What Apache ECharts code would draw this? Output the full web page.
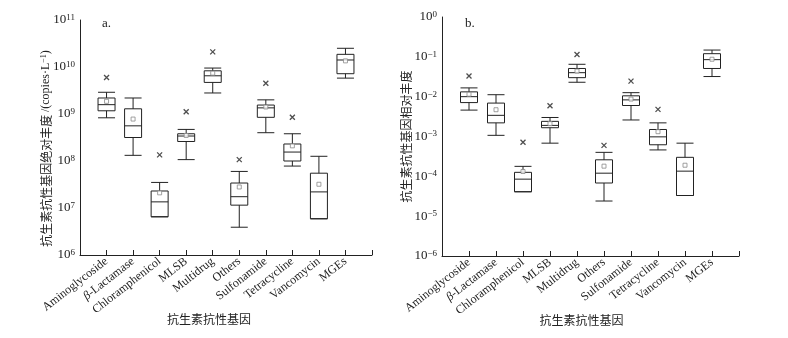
<!DOCTYPE html>
<html>
<head>
<meta charset="utf-8">
<script src="https://cdn.jsdelivr.net/npm/echarts@6/dist/echarts.min.js"></script>
<style>
  html, body { margin: 0; padding: 0; background: #fff; }
  #chart { width: 788px; height: 338px; }
</style>
</head>
<body>
<div id="chart"></div>
<script>
// 抗性基因类别
const categories = ['Aminoglycoside', 'β-Lactamase', 'Chloramphenicol', 'MLSB', 'Multidrug',
  'Others', 'Sulfonamide', 'Tetracycline', 'Vancomycin', 'MGEs'];

// a. 绝对丰度 (copies·L-1): [min, Q1, median, Q3, max]
const absBox = [
  [8.3e8, 1.17e9, 1.58e9, 2.19e9, 2.9e9],
  [1.32e8, 3.16e8, 5.6e8, 1.29e9, 2.19e9],
  [6.5e6, 6.5e6, 1.35e7, 2.3e7, 3.5e7],
  [1.07e8, 2.6e8, 3.4e8, 3.8e8, 4.7e8],
  [2.8e9, 4.7e9, 6.5e9, 8.3e9, 9.5e9],
  [3.9e6, 1.15e7, 1.74e7, 3.4e7, 6.0e7],
  [4.0e8, 8.5e8, 1.35e9, 1.55e9, 2.0e9],
  [7.8e7, 1.0e8, 1.55e8, 2.3e8, 3.8e8],
  [5.9e6, 5.9e6, 2.2e7, 5.5e7, 1.26e8],
  [5.8e9, 7.2e9, 1.41e10, 1.86e10, 2.5e10]
];
const absMean = [1.86e9, 7.8e8, 2.1e7, 3.5e8, 7.4e9, 2.8e7, 1.41e9, 2.1e8, 3.2e7, 1.35e10];
const absOutlier = [6.0e9, null, 1.35e8, 1.12e9, 2.1e10, 1.07e8, 4.5e9, 8.5e8, null, null];

// b. 相对丰度
const relBox = [
  [4.6e-3, 7.1e-3, 1.0e-2, 1.32e-2, 1.66e-2],
  [1.07e-3, 2.2e-3, 3.4e-3, 6.9e-3, 1.12e-2],
  [4.1e-5, 4.1e-5, 8.5e-5, 1.26e-4, 1.78e-4],
  [6.8e-4, 1.66e-3, 1.9e-3, 2.4e-3, 3.0e-3],
  [2.3e-2, 3.0e-2, 4.0e-2, 5.1e-2, 6.5e-2],
  [2.4e-5, 6.8e-5, 1.2e-4, 2.6e-4, 4.0e-4],
  [2.6e-3, 6.0e-3, 8.3e-3, 1.05e-2, 1.26e-2],
  [4.6e-4, 6.2e-4, 9.8e-4, 1.5e-3, 2.2e-3],
  [3.3e-5, 3.3e-5, 1.35e-4, 3.0e-4, 6.8e-4],
  [3.2e-2, 5.1e-2, 8.5e-2, 0.12, 0.148]
];
const relMean = [1.15e-2, 4.7e-3, 1.32e-4, 2.1e-3, 4.4e-2, 1.8e-4, 8.7e-3, 1.32e-3, 1.9e-4, 8.7e-2];
const relOutlier = [3.3e-2, null, 7.2e-4, 5.9e-3, 0.115, 6.0e-4, 2.45e-2, 4.8e-3, null, null];

// 两端留一个空位，使首尾类别与坐标轴端点相隔一个间距
const axisCats = [''].concat(categories, ['']);

const serif = 'Liberation Serif';
const cjk = 'Noto Sans CJK SC';
const ink = '#222';

const chart = echarts.init(document.getElementById('chart'), null, { renderer: 'canvas' });

const powLabel = (v) => {
  const e = Math.round(Math.log10(v));
  return '{b|10}{s|' + String(e).replace('-', '−') + '}';
};

const makeX = (idx) => ({
  type: 'category',
  gridIndex: idx,
  data: axisCats,
  boundaryGap: false,
  axisLine: { lineStyle: { color: ink, width: 1 } },
  axisTick: { inside: true, length: 5, alignWithLabel: true, lineStyle: { color: ink } },
  axisLabel: {
    rotate: 38,
    interval: 0,
    margin: 5,
    fontFamily: serif,
    fontSize: 12,
    color: ink,
    formatter: (v) => (v === 'β-Lactamase' ? '{i|β}-Lactamase' : v),
    rich: { i: { fontFamily: serif, fontStyle: 'italic', fontSize: 12, color: ink } }
  },
  name: '抗生素抗性基因',
  nameLocation: 'middle',
  nameMoveOverlap: false,
  nameGap: 58,
  nameTextStyle: { fontFamily: cjk, fontSize: 12, color: ink, padding: idx === 0 ? [0, 34, 0, 0] : [0, 18, 0, 0] },
  splitLine: { show: false }
});

const makeY = (idx, min, max, name, split) => ({
  type: 'log',
  logBase: 10,
  gridIndex: idx,
  min: min,
  max: max,
  splitNumber: split,
  axisLine: { show: true, lineStyle: { color: ink, width: 1 } },
  axisTick: { inside: true, length: 6, lineStyle: { color: ink } },
  minorTick: { show: false },
  splitLine: { show: false },
  axisLabel: {
    margin: 5,
    color: ink,
    formatter: powLabel,
    rich: {
      b: { fontFamily: serif, fontSize: 13, lineHeight: 14, color: ink },
      s: { fontFamily: serif, fontSize: 9, lineHeight: 9, verticalAlign: 'top', color: ink }
    }
  },
  name: name,
  nameLocation: 'middle',
  nameMoveOverlap: false,
  nameGap: idx === 0 ? 28 : 30,
  nameTextStyle: {
    fontFamily: cjk,
    fontSize: 12,
    color: ink,
    padding: idx === 0 ? [0, 22, 0, 0] : [0, 0, 0, 0],
    rich: {
      r: { fontFamily: serif, fontSize: 12, color: ink },
      s: { fontFamily: serif, fontSize: 8, lineHeight: 8, verticalAlign: 'top', color: ink }
    }
  }
});

const boxData = (arr) => arr.map((d, i) => [categories[i]].concat(d));
const pointData = (arr) => arr.map((v, i) => (v == null ? null : [categories[i], v])).filter(Boolean);

const crossPath = 'path://M0,0L10,10M10,0L0,10';

const makeSeries = (idx, box, mean, outl) => [
  {
    type: 'boxplot',
    xAxisIndex: idx,
    yAxisIndex: idx,
    boxWidth: [17, 17],
    encode: { x: 0, y: [1, 2, 3, 4, 5] },
    data: boxData(box),
    itemStyle: { color: '#fff', borderColor: ink, borderWidth: 1 },
    emphasis: { disabled: true }
  },
  {
    type: 'scatter',
    xAxisIndex: idx,
    yAxisIndex: idx,
    symbol: 'rect',
    symbolSize: 4,
    data: pointData(mean),
    itemStyle: { color: '#fff', borderColor: '#8a8a8a', borderWidth: 1 },
    z: 5
  },
  {
    type: 'scatter',
    xAxisIndex: idx,
    yAxisIndex: idx,
    symbol: crossPath,
    symbolSize: 5,
    data: pointData(outl),
    itemStyle: { color: 'transparent', borderColor: ink, borderWidth: 1.3 },
    z: 5
  }
];

const option = {
  backgroundColor: '#fff',
  animation: false,
  grid: [
    { left: 80, top: 20, width: 292, height: 235 },
    { left: 442, top: 17, width: 297, height: 239 }
  ],
  xAxis: [makeX(0), makeX(1)],
  yAxis: [
    makeY(0, 1e6, 1e11, '抗生素抗性基因绝对丰度 {r|/(copies·L}{s|−1}{r|)}', 5),
    makeY(1, 1e-6, 1, '抗生素抗性基因相对丰度', 6)
  ],
  graphic: [
    { type: 'text', left: 102, top: 17, style: { text: 'a.', font: '13px "Liberation Serif"', fill: ink } },
    { type: 'text', left: 465, top: 17, style: { text: 'b.', font: '13px "Liberation Serif"', fill: ink } }
  ],
  series: [].concat(
    makeSeries(0, absBox, absMean, absOutlier),
    makeSeries(1, relBox, relMean, relOutlier)
  )
};

chart.setOption(option);
</script>
</body>
</html>
